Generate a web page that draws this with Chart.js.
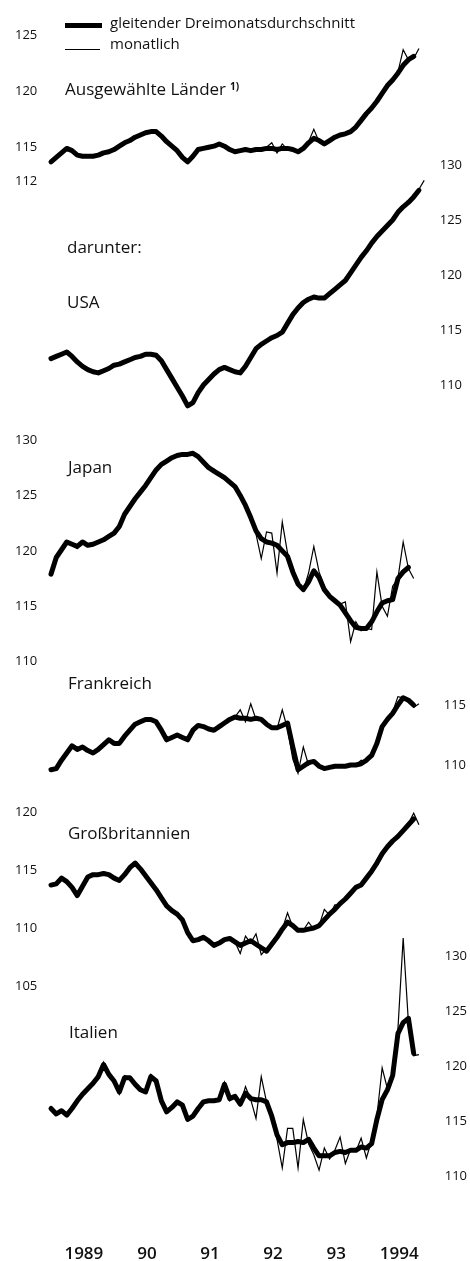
<!DOCTYPE html>
<html><head><meta charset="utf-8">
<script src="https://cdn.jsdelivr.net/npm/chart.js@4.4.1/dist/chart.umd.min.js"></script>
<style>
html,body{margin:0;padding:0;background:#fff;}
#wrap{position:relative;width:470px;height:1261px;overflow:hidden;font-family:"Open Sans",sans-serif;color:#111;}
#c{position:absolute;left:0;top:0;}
.t{position:absolute;font-size:17px;line-height:20px;white-space:nowrap;transform:translateY(-50%);}
.lg{position:absolute;font-size:15px;line-height:18px;white-space:nowrap;transform:translateY(-50%);}
.sw{position:absolute;background:#000;}
.fn{font-size:10px;font-weight:700;position:relative;top:-5px;margin-left:4px;}
</style></head>
<body><div id="wrap">
<canvas id="c" width="470" height="1261"></canvas>
<div class="sw" style="left:65px;top:23px;width:37px;height:5px"></div>
<div class="lg" style="left:110px;top:22px">gleitender Dreimonatsdurchschnitt</div>
<div class="sw" style="left:65px;top:48.5px;width:35px;height:1.2px"></div>
<div class="lg" style="left:110px;top:43px">monatlich</div>
<div class="t" style="left:65px;top:90px">Ausgewählte Länder<span class="fn">1)</span></div>
<div class="t" style="left:67px;top:247px">darunter:</div>
<div class="t" style="left:67px;top:302px">USA</div>
<div class="t" style="left:68px;top:467px">Japan</div>
<div class="t" style="left:68px;top:683px">Frankreich</div>
<div class="t" style="left:68px;top:833px">Großbritannien</div>
<div class="t" style="left:69px;top:1032px">Italien</div>
</div>
<script>
// x-axis labels (one per year)
const xTickLabels = ['1989','90','91','92','93','1994'];

// Ausgewählte Länder
const laender3m = [113.7,114.1,114.5,114.9,114.7,114.3,114.2,114.2,114.2,114.3,
 114.5,114.6,114.8,115.1,115.4,115.6,115.9,116.1,116.3,116.4,
 116.4,116.0,115.5,115.1,114.7,114.1,113.7,114.2,114.8,114.9,
 115.0,115.1,115.3,115.1,114.8,114.6,114.7,114.8,114.7,114.8,
 114.8,114.9,114.9,114.8,114.9,114.9,114.8,114.6,114.9,115.4,
 115.8,115.6,115.3,115.6,115.9,116.1,116.2,116.4,116.8,117.4,
 118.0,118.5,119.1,119.8,120.5,121.0,121.6,122.3,122.8,123.1];
const laenderMonthly = [113.6,114.2,114.5,114.9,114.6,114.3,114.3,114.1,114.2,114.3,
 114.5,114.7,114.8,115.1,115.4,115.6,115.9,116.1,116.3,116.5,
 116.4,115.9,115.5,115.1,114.6,114.1,113.6,114.3,114.8,114.9,
 115.0,115.2,115.3,115.0,114.8,114.6,114.8,114.7,114.8,114.8,
 114.7,115.0,115.4,114.5,115.3,114.8,114.7,114.6,115.0,115.5,
 116.6,115.5,115.2,115.6,115.9,116.1,116.2,116.4,116.9,117.3,
 118.0,118.6,119.0,119.8,120.6,121.0,121.7,123.7,122.8,122.9,123.8];
const laenderTicks = [112,115,120,125];

// USA
const usa3m = [112.4,112.6,112.8,113.0,112.6,112.1,111.7,111.4,111.2,111.1,
 111.3,111.5,111.8,111.9,112.1,112.3,112.5,112.6,112.8,112.8,
 112.7,112.2,111.4,110.6,109.8,109.0,108.1,108.4,109.3,110.0,
 110.5,111.0,111.4,111.6,111.4,111.2,111.1,111.7,112.5,113.3,
 113.7,114.0,114.3,114.5,114.8,115.6,116.4,117.0,117.5,117.8,
 118.0,117.9,117.9,118.3,118.7,119.1,119.5,120.2,120.9,121.6,
 122.2,122.9,123.5,124.0,124.5,125.0,125.7,126.2,126.6,127.1,127.7];
const usaMonthly = [112.3,112.7,112.8,113.1,112.5,112.1,111.6,111.4,111.1,111.1,
 111.4,111.5,111.8,112.0,112.1,112.3,112.5,112.7,112.8,112.8,
 112.6,112.2,111.3,110.6,109.7,109.0,108.0,108.5,109.3,110.1,
 110.5,111.0,111.4,111.7,111.3,111.2,111.1,111.8,112.5,113.3,
 113.6,114.1,114.3,114.6,114.8,115.6,116.4,117.1,117.5,117.8,
 118.0,117.8,118.0,118.2,118.7,119.1,119.5,120.3,120.8,121.7,
 122.2,122.9,123.5,124.1,124.5,125.0,125.7,126.3,126.5,127.2,127.8,128.6];
const usaTicks = [110,115,120,125,130];

// Japan
const japan3m = [117.9,119.4,120.1,120.8,120.6,120.4,120.8,120.5,120.6,120.8,
 121.0,121.3,121.6,122.2,123.3,124.0,124.7,125.3,125.9,126.6,
 127.3,127.8,128.1,128.4,128.6,128.7,128.7,128.8,128.5,128.0,
 127.5,127.2,126.9,126.6,126.2,125.8,125.0,124.1,123.0,121.8,
 121.1,120.8,120.7,120.5,120.0,119.5,118.1,117.0,116.5,117.2,
 118.2,117.6,116.5,115.9,115.5,115.1,114.4,113.7,113.1,113.0,
 113.0,113.6,114.5,115.3,115.5,115.6,117.5,118.1,118.5];
const japanMonthly = [117.8,119.5,120.1,120.9,120.6,120.2,120.9,120.4,120.6,120.8,
 121.0,121.3,121.6,122.3,123.3,124.0,124.6,125.3,126.0,126.7,
 127.3,127.7,128.2,128.4,128.6,128.6,128.7,128.9,128.4,128.0,
 127.4,127.4,126.8,126.6,126.2,125.6,125.0,124.1,123.0,121.5,
 119.3,121.7,121.6,118.0,122.6,119.8,118.5,117.2,116.4,118.0,
 120.4,118.1,116.8,116.0,115.6,115.2,115.4,111.8,113.6,112.8,
 113.0,112.9,118.1,115.0,114.1,116.8,117.5,120.8,118.4,117.5];
const japanTicks = [110,115,120,125,130];

// Frankreich
const frankreich3m = [109.6,109.7,110.4,111.0,111.6,111.3,111.5,111.2,111.0,111.3,
 111.7,112.1,111.8,111.8,112.4,112.9,113.4,113.6,113.8,113.8,
 113.6,112.9,112.1,112.3,112.5,112.3,112.1,112.9,113.3,113.2,
 113.0,112.9,113.2,113.5,113.8,114.0,113.9,113.9,113.8,113.9,
 113.8,113.4,113.1,113.1,113.3,113.5,111.5,109.6,109.9,110.2,
 110.3,109.9,109.7,109.8,109.9,109.9,109.9,110.0,110.0,110.1,
 110.4,110.8,111.8,113.2,113.8,114.3,115.0,115.6,115.4,115.0];
const frankreichMonthly = [109.6,109.8,110.3,111.0,111.7,111.2,111.5,111.2,110.9,111.3,
 111.8,112.1,111.7,111.9,112.4,112.9,113.4,113.7,113.8,113.8,
 113.6,112.8,112.1,112.3,112.5,112.3,112.0,113.0,113.3,113.2,
 113.0,112.9,113.2,113.5,113.8,114.0,114.6,113.6,115.1,113.8,
 113.8,113.3,113.1,113.0,114.6,113.0,110.5,109.3,111.5,110.0,
 110.3,109.8,109.7,109.8,109.9,109.9,110.0,109.9,110.0,110.4,
 110.2,110.8,112.0,113.2,114.0,114.4,115.7,115.6,115.2,114.8,115.1];
const frankreichTicks = [110,115];

// Großbritannien
const gb3m = [113.7,113.8,114.3,114.0,113.5,112.8,113.6,114.4,114.6,114.6,
 114.7,114.6,114.3,114.1,114.6,115.2,115.6,115.1,114.5,113.9,
 113.3,112.6,111.9,111.5,111.2,110.7,109.6,108.9,109.0,109.2,
 108.9,108.5,108.7,109.0,109.1,108.8,108.5,108.7,108.9,108.6,
 108.3,108.0,108.6,109.2,109.9,110.5,110.2,109.8,109.8,109.9,
 110.0,110.2,110.7,111.2,111.6,112.1,112.5,113.0,113.5,113.7,
 114.3,114.9,115.6,116.4,117.0,117.5,117.9,118.4,118.9,119.4];
const gbMonthly = [113.7,113.8,114.3,114.0,113.5,112.7,113.7,114.4,114.6,114.6,
 114.7,114.6,114.3,114.1,114.6,115.2,115.7,115.1,114.5,113.9,
 113.3,112.6,111.9,111.5,111.1,110.7,109.6,108.8,109.1,109.2,
 108.9,108.4,108.7,109.0,109.1,108.8,107.8,109.3,108.7,109.5,
 107.7,108.2,108.6,109.2,109.9,111.3,110.1,109.8,109.8,110.5,
 109.9,110.2,111.6,111.1,112.0,112.0,112.6,113.0,113.6,113.6,
 114.4,114.8,115.7,116.3,117.1,117.5,117.9,118.5,119.0,119.9,118.9];
const gbTicks = [105,110,115,120];

// Italien
const italien3m = [116.2,115.7,116.0,115.6,116.2,116.9,117.5,118.0,118.5,119.1,
 120.2,119.3,118.7,117.7,119.0,119.0,118.4,117.9,117.7,119.1,
 118.7,116.9,115.9,116.3,116.8,116.5,115.2,115.5,116.2,116.8,
 116.9,116.9,117.0,118.4,117.1,117.3,116.6,117.6,117.1,117.0,
 117.0,116.8,115.5,113.8,112.9,113.1,113.1,113.2,113.1,113.4,
 112.6,111.9,111.9,111.9,112.2,112.3,112.2,112.4,112.4,112.7,
 112.6,113.0,115.2,117.0,117.9,119.2,123.0,124.0,124.4,121.2];
const italienMonthly = [116.3,115.6,116.1,115.5,116.4,117.0,117.6,118.1,118.6,119.2,
 120.4,119.1,118.6,117.5,119.2,119.0,118.4,117.8,117.6,119.3,
 118.6,116.8,115.8,116.4,116.9,116.5,115.1,115.6,116.3,116.8,
 116.9,117.0,116.9,118.6,116.9,117.4,116.5,118.2,117.0,115.3,
 119.1,116.8,115.3,113.4,110.8,114.4,114.4,110.8,115.2,113.0,
 112.0,110.6,112.6,111.6,112.4,113.6,111.2,112.5,112.3,113.5,
 111.7,113.3,115.5,119.9,118.0,119.5,123.4,131.7,124.0,121.0,121.1];
const italienTicks = [110,115,120,125,130];

// ---- layout (pixels) ----
const AREA = {top:10, bottom:1240, left:51, right:424.2};
// labelX: left axes -> left edge of label text; right axes -> right edge of label text
const panels = [
  {id:'y1', name:'Ausgewählte Länder', side:'left',  v0:125, p0:35,    s:11.23, labelX:15,  avg:laender3m,    mon:laenderMonthly,    ticks:laenderTicks},
  {id:'y2', name:'USA',                side:'right', v0:130, p0:165,   s:11.0,  labelX:462, avg:usa3m,        mon:usaMonthly,        ticks:usaTicks},
  {id:'y3', name:'Japan',              side:'left',  v0:130, p0:440,   s:11.085,labelX:15,  avg:japan3m,      mon:japanMonthly,      ticks:japanTicks},
  {id:'y4', name:'Frankreich',         side:'right', v0:115, p0:705,   s:12.0,  labelX:466, avg:frankreich3m, mon:frankreichMonthly, ticks:frankreichTicks},
  {id:'y5', name:'Großbritannien',     side:'left',  v0:120, p0:812,   s:11.6,  labelX:15,  avg:gb3m,         mon:gbMonthly,         ticks:gbTicks},
  {id:'y6', name:'Italien',            side:'right', v0:130, p0:956.7, s:11.0,  labelX:467, avg:italien3m,    mon:italienMonthly,    ticks:italienTicks}
];

const H = AREA.bottom - AREA.top;
const zeroPad = s => { s.paddingTop = 0; s.paddingBottom = 0; s.paddingLeft = 0; s.paddingRight = 0; };
const scales = {
  x: {
    type:'linear', min:0, max:71,
    grid:{display:false, drawTicks:false}, border:{display:false},
    afterBuildTicks: s => { s.ticks = xTickLabels.map((_,k)=>({value:k*12+6.25})); },
    ticks:{autoSkip:false, maxRotation:0, minRotation:0, padding:4, color:'#111',
      font:{family:'Open Sans', size:17, weight:'600'},
      callback:(v,idx)=>xTickLabels[idx]},
    afterFit: s => { s.height = 1261 - AREA.bottom; zeroPad(s); }
  }
};
const datasets = [];
panels.forEach(p => {
  const max = p.v0 + (p.p0 - AREA.top)/p.s;
  const min = max - H/p.s;
  const pad = p.side === 'left' ? (p.labelX - AREA.left) : (p.labelX - AREA.right);
  scales[p.id] = {
    type:'linear', position:p.side, min:min, max:max,
    grid:{display:false, drawTicks:false}, border:{display:false},
    afterBuildTicks: s => { s.ticks = p.ticks.map(v=>({value:v})); },
    ticks:{autoSkip:false, mirror:true, padding:pad, crossAlign:'near', color:'#111',
      font:{family:'Open Sans', size:13}},
    afterFit: s => { s.width = 0; zeroPad(s); }
  };
  datasets.push({label:p.name+' monatlich', data:p.mon.map((v,i)=>({x:i,y:v})), yAxisID:p.id,
    borderColor:'#000', borderWidth:1.2, pointRadius:0, tension:0, fill:false,
    borderJoinStyle:'miter', clip:false});
  datasets.push({label:p.name+' gleitender Dreimonatsdurchschnitt', data:p.avg.map((v,i)=>({x:i,y:v})), yAxisID:p.id,
    borderColor:'#000', borderWidth:5, pointRadius:0, tension:0, fill:false,
    borderJoinStyle:'round', borderCapStyle:'round', clip:false});
});

new Chart(document.getElementById('c'), {
  type:'line',
  data:{datasets},
  options:{
    responsive:false, animation:false, devicePixelRatio:1, events:[],
    layout:{padding:{top:AREA.top, left:AREA.left, right:470-AREA.right, bottom:0}},
    plugins:{legend:{display:false}, tooltip:{enabled:false}, title:{display:false}},
    scales
  }
});
</script>
</body></html>
